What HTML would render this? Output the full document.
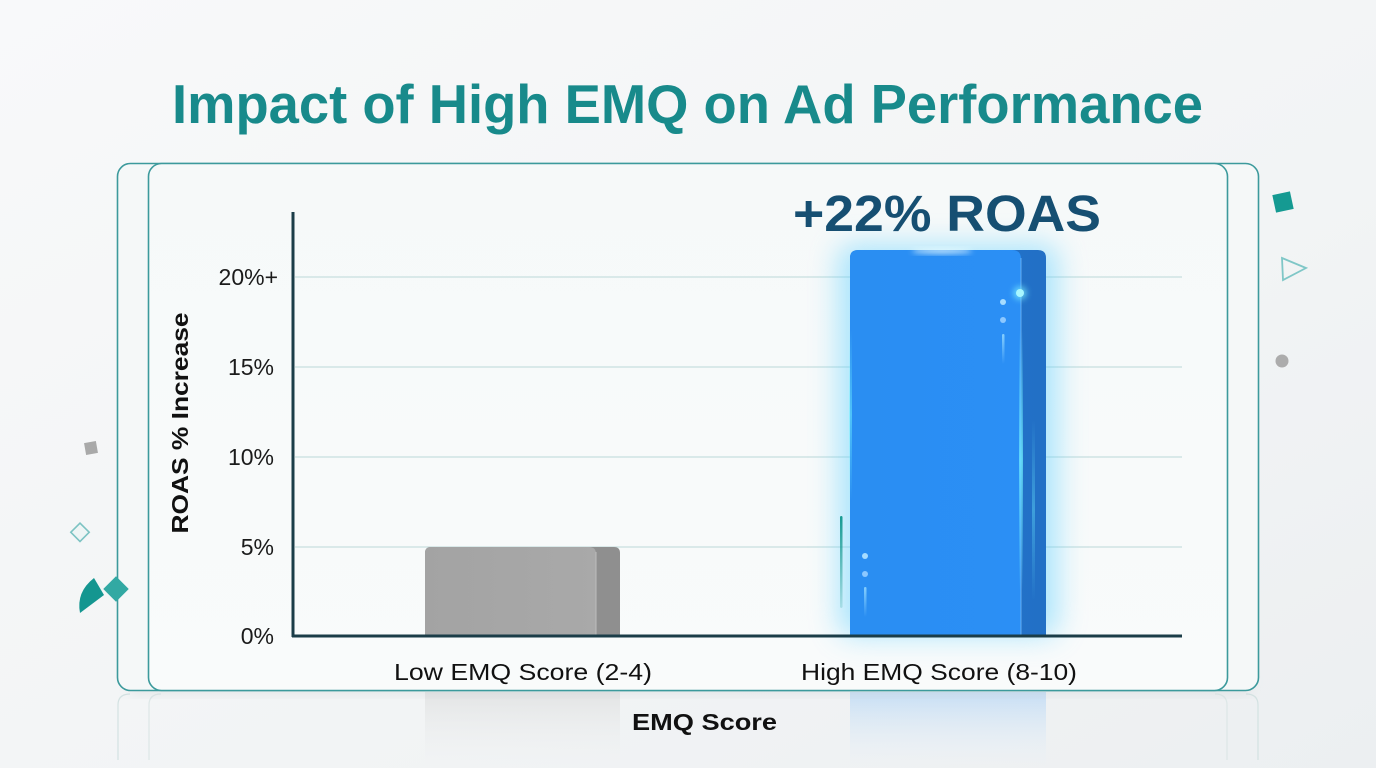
<!DOCTYPE html>
<html>
<head>
<meta charset="utf-8">
<style>
html,body{margin:0;padding:0;width:1376px;height:768px;overflow:hidden;background:#f3f5f6;}
svg{display:block;}
text{font-family:"Liberation Sans",sans-serif;}
</style>
</head>
<body>
<svg width="1376" height="768" viewBox="0 0 1376 768" xmlns="http://www.w3.org/2000/svg">
<defs>
  <linearGradient id="bg" x1="0" y1="0" x2="1" y2="1">
    <stop offset="0" stop-color="#f8f9fa"/>
    <stop offset="0.6" stop-color="#f2f4f5"/>
    <stop offset="1" stop-color="#eceff1"/>
  </linearGradient>
  <linearGradient id="panel" x1="0" y1="0" x2="0" y2="1">
    <stop offset="0" stop-color="#f6f9f9"/>
    <stop offset="1" stop-color="#f9fbfb"/>
  </linearGradient>
  <linearGradient id="grayFront" x1="0" y1="0" x2="1" y2="0">
    <stop offset="0" stop-color="#a3a3a3"/>
    <stop offset="1" stop-color="#a9a9a9"/>
  </linearGradient>
  <linearGradient id="blueFront" x1="0" y1="0" x2="1" y2="0">
    <stop offset="0" stop-color="#2a8ef2"/>
    <stop offset="1" stop-color="#2b8ff5"/>
  </linearGradient>
  <linearGradient id="blueSide" x1="0" y1="0" x2="1" y2="0">
    <stop offset="0" stop-color="#2476cf"/>
    <stop offset="1" stop-color="#2270c6"/>
  </linearGradient>
  <linearGradient id="reflG" x1="0" y1="0" x2="0" y2="1">
    <stop offset="0" stop-color="#dcdddd" stop-opacity="0.7"/>
    <stop offset="1" stop-color="#eef0f1" stop-opacity="0"/>
  </linearGradient>
  <linearGradient id="reflB" x1="0" y1="0" x2="0" y2="1">
    <stop offset="0" stop-color="#bcd9f5" stop-opacity="0.8"/>
    <stop offset="1" stop-color="#e6f0f8" stop-opacity="0"/>
  </linearGradient>
  <linearGradient id="fadeLine" x1="0" y1="0" x2="0" y2="1">
    <stop offset="0" stop-color="#8fd6ff" stop-opacity="0.9"/>
    <stop offset="1" stop-color="#8fd6ff" stop-opacity="0"/>
  </linearGradient>
  <linearGradient id="tealLine" x1="0" y1="0" x2="0" y2="1">
    <stop offset="0" stop-color="#169a92"/>
    <stop offset="1" stop-color="#169a92" stop-opacity="0.2"/>
  </linearGradient>
  <linearGradient id="sideGlow" x1="0" y1="0" x2="0" y2="1">
    <stop offset="0" stop-color="#6ff0ff" stop-opacity="0"/>
    <stop offset="0.5" stop-color="#6ff0ff" stop-opacity="0.9"/>
    <stop offset="1" stop-color="#6ff0ff" stop-opacity="0"/>
  </linearGradient>
  <filter id="glow" x="-40%" y="-20%" width="180%" height="140%">
    <feGaussianBlur stdDeviation="14"/>
  </filter>
  <filter id="soft" x="-50%" y="-50%" width="200%" height="200%">
    <feGaussianBlur stdDeviation="3"/>
  </filter>
  <filter id="shadow" x="-10%" y="-10%" width="120%" height="130%">
    <feGaussianBlur stdDeviation="6"/>
  </filter>
</defs>

<rect width="1376" height="768" fill="url(#bg)"/>

<!-- reflections below frame -->
<rect x="425" y="692" width="195" height="76" fill="url(#reflG)"/>
<rect x="850" y="692" width="196" height="76" fill="url(#reflB)"/>
<path d="M118 760 L118 705 Q118 694 130 694" fill="none" stroke="#d3e2e2" stroke-width="1.2"/>
<path d="M149 760 L149 705 Q149 694 161 694" fill="none" stroke="#dde7e7" stroke-width="1.2"/>
<path d="M1258 760 L1258 705 Q1258 694 1246 694" fill="none" stroke="#d3e2e2" stroke-width="1.2"/>
<path d="M1227 760 L1227 705 Q1227 694 1215 694" fill="none" stroke="#dde7e7" stroke-width="1.2"/>

<!-- frame shadow -->
<rect x="130" y="670" width="1120" height="24" fill="#c9cdd0" opacity="0.35" filter="url(#shadow)"/>

<!-- outer frame -->
<rect x="117.5" y="163.5" width="1141" height="527" rx="13" fill="#f5f8f8" stroke="#3c9a9c" stroke-width="1.6"/>
<!-- inner frame -->
<rect x="148.5" y="163.5" width="1079" height="527" rx="13" fill="url(#panel)" stroke="#3c9a9c" stroke-width="1.6"/>

<!-- title -->
<text x="172" y="123" font-size="55" font-weight="bold" fill="#188a8b" textLength="1031" lengthAdjust="spacingAndGlyphs">Impact of High EMQ on Ad Performance</text>

<!-- gridlines -->
<g stroke="#cfe3e3" stroke-width="1.5">
  <line x1="295" y1="277" x2="1182" y2="277"/>
  <line x1="295" y1="367" x2="1182" y2="367"/>
  <line x1="295" y1="457" x2="1182" y2="457"/>
  <line x1="295" y1="547" x2="1182" y2="547"/>
</g>

<!-- y tick labels -->
<g font-size="23" fill="#1b1b1b" text-anchor="end">
  <text x="278" y="285">20%+</text>
  <text x="274" y="375">15%</text>
  <text x="274" y="465">10%</text>
  <text x="274" y="555">5%</text>
  <text x="274" y="644">0%</text>
</g>

<!-- y axis label -->
<text transform="translate(188,423) rotate(-90)" text-anchor="middle" font-size="23" font-weight="bold" fill="#111" textLength="221" lengthAdjust="spacingAndGlyphs">ROAS % Increase</text>

<!-- gray bar -->
<path d="M425 636 L425 553 Q425 547 431 547 L614 547 Q620 547 620 553 L620 636 Z" fill="#8f8f8f"/>
<path d="M425 636 L425 553 Q425 547 431 547 L589 547 Q596 547 596 554 L596 636 Z" fill="url(#grayFront)"/>
<line x1="596" y1="552" x2="596" y2="636" stroke="#bdbdbd" stroke-width="1"/>

<!-- blue bar glow -->
<rect x="838" y="244" width="220" height="392" rx="14" fill="#5fd0ff" opacity="0.5" filter="url(#glow)"/>
<!-- blue bar -->
<path d="M850 636 L850 258 Q850 250 858 250 L1038 250 Q1046 250 1046 258 L1046 636 Z" fill="url(#blueSide)"/>
<path d="M850 636 L850 258 Q850 250 858 250 L1012 250 Q1021 250 1021 259 L1021 636 Z" fill="url(#blueFront)"/>
<line x1="1021" y1="258" x2="1021" y2="636" stroke="#7fc3ff" stroke-width="1" opacity="0.7"/>
<rect x="1019" y="330" width="4" height="260" fill="url(#sideGlow)" opacity="0.8"/>
<rect x="1032" y="420" width="3" height="180" fill="url(#sideGlow)" opacity="0.4"/>
<rect x="849" y="330" width="3" height="170" fill="url(#sideGlow)" opacity="0.6"/>
<ellipse cx="942" cy="251" rx="30" ry="2.5" fill="#e8fbff" opacity="0.9" filter="url(#soft)"/>
<!-- dots on blue bar -->
<circle cx="1020" cy="293" r="7" fill="#7ff4ff" opacity="0.6" filter="url(#soft)"/>
<circle cx="1020" cy="293" r="4" fill="#a8f7ff"/>
<circle cx="1003" cy="302" r="3" fill="#a6dcff"/>
<circle cx="1003" cy="320" r="3" fill="#8cc8ff"/>
<rect x="1002" y="334" width="2.5" height="30" rx="1.2" fill="url(#fadeLine)"/>
<circle cx="865" cy="556" r="3" fill="#a6dcff"/>
<circle cx="865" cy="574" r="3" fill="#8cc8ff"/>
<rect x="864" y="587" width="2.5" height="30" rx="1.2" fill="url(#fadeLine)"/>
<rect x="840" y="516" width="2.5" height="92" rx="1.2" fill="url(#tealLine)"/>

<!-- axes -->
<line x1="293" y1="212" x2="293" y2="637" stroke="#1b3d48" stroke-width="3"/>
<line x1="292" y1="636" x2="1182" y2="636" stroke="#1b3d48" stroke-width="3"/>

<!-- +22% ROAS -->
<text x="793" y="231" font-size="51" font-weight="bold" fill="#164f72" textLength="308" lengthAdjust="spacingAndGlyphs">+22% ROAS</text>

<!-- x labels -->
<text x="394" y="680" font-size="23" fill="#111" textLength="258" lengthAdjust="spacingAndGlyphs">Low EMQ Score (2-4)</text>
<text x="801" y="680" font-size="23" fill="#111" textLength="276" lengthAdjust="spacingAndGlyphs">High EMQ Score (8-10)</text>
<text x="632" y="730" font-size="23" font-weight="bold" fill="#111" textLength="145" lengthAdjust="spacingAndGlyphs">EMQ Score</text>

<!-- left decorations -->
<rect x="85" y="442" width="12" height="12" fill="#a9a9a9" transform="rotate(-10 91 448)"/>
<rect x="73" y="526" width="13" height="13" fill="#eef5f5" stroke="#7cc3c3" stroke-width="1.6" transform="rotate(45 80 533)"/>
<path d="M94 578 L104 595 L80 613 Q76 592 94 578 Z" fill="#149690"/>
<rect x="107" y="580" width="18" height="18" fill="#32a9a3" transform="rotate(45 116 589)"/>

<!-- right decorations -->
<rect x="1274" y="193" width="18" height="18" fill="#159a92" transform="rotate(-12 1283 202)"/>
<path d="M1282 258 L1306 268 L1283 280 Z" fill="none" stroke="#7fc7c7" stroke-width="1.8"/>
<circle cx="1282" cy="361" r="6.5" fill="#acacac"/>
</svg>
</body>
</html>
